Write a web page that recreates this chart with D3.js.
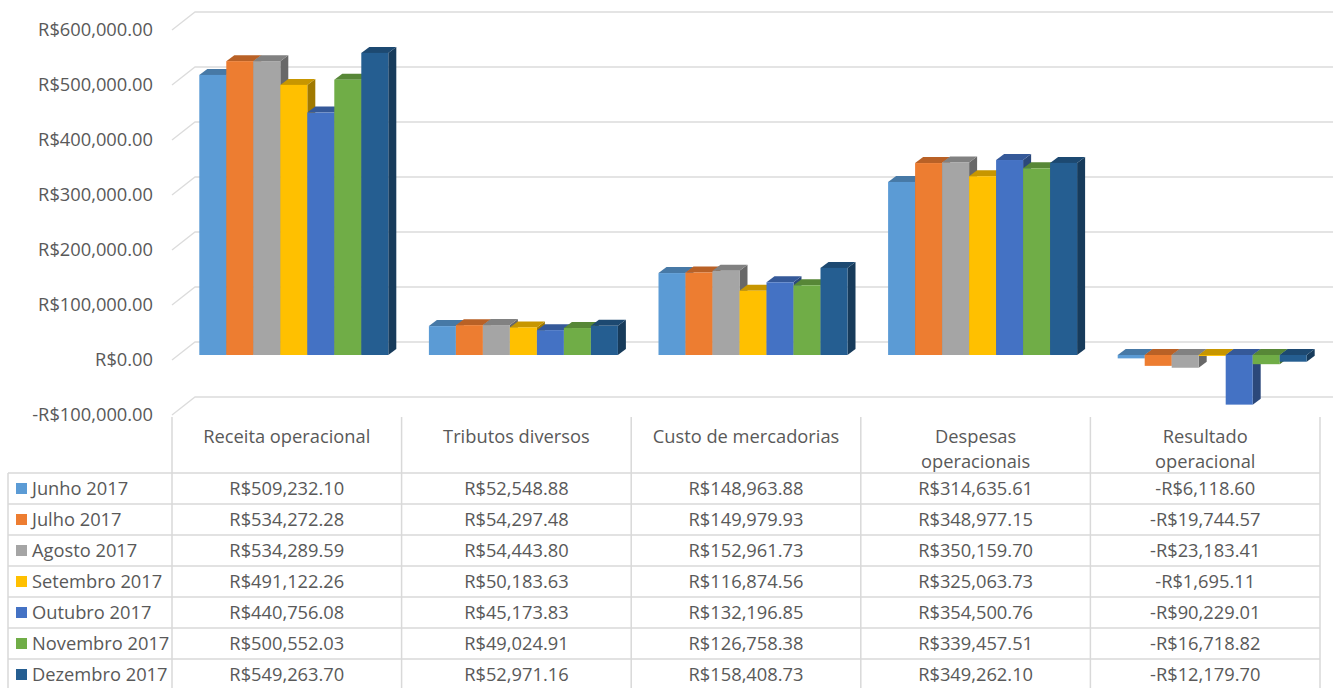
<!DOCTYPE html>
<html>
<head>
<meta charset="utf-8">
<script src="https://cdn.jsdelivr.net/npm/d3@7"></script>
<style>
  body { margin: 0; background: #fff; }
  text { font-family: "Open Sans", sans-serif; fill: #595959; }
</style>
</head>
<body>
<div id="container"></div>
<script>
var categories = ['Receita operacional', 'Tributos diversos', 'Custo de mercadorias', 'Despesas operacionais', 'Resultado operacional'];
var headerLines = [['Receita operacional'], ['Tributos diversos'], ['Custo de mercadorias'], ['Despesas', 'operacionais'], ['Resultado', 'operacional']];
var series = ['Junho 2017', 'Julho 2017', 'Agosto 2017', 'Setembro 2017', 'Outubro 2017', 'Novembro 2017', 'Dezembro 2017'];
var colors = ['#5B9BD5', '#ED7D31', '#A5A5A5', '#FFC000', '#4472C4', '#70AD47', '#255E91'];

var junho    = [509232.10, 52548.88, 148963.88, 314635.61, -6118.60];
var julho    = [534272.28, 54297.48, 149979.93, 348977.15, -19744.57];
var agosto   = [534289.59, 54443.80, 152961.73, 350159.70, -23183.41];
var setembro = [491122.26, 50183.63, 116874.56, 325063.73, -1695.11];
var outubro  = [440756.08, 45173.83, 132196.85, 354500.76, -90229.01];
var novembro = [500552.03, 49024.91, 126758.38, 339457.51, -16718.82];
var dezembro = [549263.70, 52971.16, 158408.73, 349262.10, -12179.70];
var allValues = [junho, julho, agosto, setembro, outubro, novembro, dezembro];

var yTicks = [-100000, 0, 100000, 200000, 300000, 400000, 500000, 600000];

var width = 1333, height = 688;
var plotLeft = 172, plotRight = 1320;
var wall = {dx: 23, dy: 18};      // depth of the back wall
var barShift = {dx: 7, dy: 5};    // bars sit a bit behind the front plane
var barDepth = {dx: 8, dy: 6};
var groupWidth = 189;
var headerTop = 417, headerBottom = 473, rowH = 31;
var fontSize = '18.3px';

var svg = d3.select('#container').append('svg')
	.attr('width', width)
	.attr('height', height);

var y = d3.scaleLinear().domain([-100000, 600000]).range([415, 30]);
var x0 = d3.scaleBand().domain(categories).range([plotLeft, plotRight]);
var x1 = d3.scaleBand().domain(series).range([0, groupWidth]);

var money = d3.format(',.2f');
function brl(v) { return (v < 0 ? '-R$' : 'R$') + money(Math.abs(v)); }

// gridlines: left side wall diagonal + back wall
var grid = svg.append('g').attr('stroke', '#dcdcdc').attr('stroke-width', 1.3).attr('fill', 'none');
grid.selectAll('path')
	.data(yTicks)
	.join('path')
	.attr('d', d => 'M' + plotLeft + ',' + y(d) + 'L' + (plotLeft + wall.dx) + ',' + (y(d) - wall.dy) + 'L' + width + ',' + (y(d) - wall.dy));

// value axis labels
var yAxis = d3.axisLeft(y).tickValues(yTicks).tickSize(0).tickPadding(0).tickFormat(brl);
var axisG = svg.append('g').attr('transform', 'translate(153,0)').call(yAxis);
axisG.select('.domain').remove();
axisG.selectAll('text').attr('font-size', fontSize).attr('font-family', '"Open Sans", sans-serif').attr('fill', '#595959');

// 3D bars
var y0 = y(0) - barShift.dy;
var bars = svg.append('g');
categories.forEach(function(cat, ci) {
	series.forEach(function(s, si) {
		var v = allValues[si][ci];
		var c = d3.rgb(colors[si]);
		var bx = x0(cat) + (x0.bandwidth() - groupWidth) / 2 + barShift.dx + x1(s);
		var w = x1.bandwidth();
		var yv = y(v) - barShift.dy;
		var top = Math.min(yv, y0), bot = Math.max(yv, y0);
		var g = bars.append('g');
		// side face
		g.append('path')
			.attr('d', 'M' + (bx + w) + ',' + top + 'L' + (bx + w + barDepth.dx) + ',' + (top - barDepth.dy) +
				'L' + (bx + w + barDepth.dx) + ',' + (bot - barDepth.dy) + 'L' + (bx + w) + ',' + bot + 'Z')
			.attr('fill', c.darker(1.3));
		// top face
		g.append('path')
			.attr('d', 'M' + bx + ',' + top + 'L' + (bx + barDepth.dx) + ',' + (top - barDepth.dy) +
				'L' + (bx + w + barDepth.dx) + ',' + (top - barDepth.dy) + 'L' + (bx + w) + ',' + top + 'Z')
			.attr('fill', c.darker(0.7));
		// front face
		g.append('rect')
			.attr('x', bx)
			.attr('y', top)
			.attr('width', w)
			.attr('height', bot - top)
			.attr('fill', c);
	});
});

// data table
var tbl = svg.append('g');
var lineColor = '#d9d9d9';
var rowsBottom = headerBottom + rowH * series.length;
var colEdges = [plotLeft].concat(categories.map(c => x0(c) + x0.bandwidth()));

tbl.selectAll('line.v')
	.data(colEdges)
	.join('line')
	.attr('class', 'v')
	.attr('x1', d => d).attr('x2', d => d)
	.attr('y1', headerTop).attr('y2', rowsBottom)
	.attr('stroke', lineColor).attr('stroke-width', 1.5);

tbl.append('line')
	.attr('x1', 8).attr('x2', 8)
	.attr('y1', headerBottom).attr('y2', rowsBottom)
	.attr('stroke', lineColor).attr('stroke-width', 1.5);

tbl.selectAll('line.h')
	.data(d3.range(series.length + 1))
	.join('line')
	.attr('class', 'h')
	.attr('x1', 8).attr('x2', plotRight)
	.attr('y1', d => headerBottom + d * rowH).attr('y2', d => headerBottom + d * rowH)
	.attr('stroke', lineColor).attr('stroke-width', 1.5);

// header
categories.forEach(function(cat, ci) {
	var t = tbl.append('text')
		.attr('x', x0(cat) + x0.bandwidth() / 2)
		.attr('y', 443)
		.attr('text-anchor', 'middle')
		.attr('font-size', fontSize);
	headerLines[ci].forEach(function(line, li) {
		t.append('tspan')
			.attr('x', x0(cat) + x0.bandwidth() / 2)
			.attr('dy', li === 0 ? 0 : 25)
			.text(line);
	});
});

// rows
series.forEach(function(s, si) {
	var cy = headerBottom + si * rowH + rowH / 2;
	tbl.append('rect')
		.attr('x', 16).attr('y', cy - 5.5)
		.attr('width', 11).attr('height', 11)
		.attr('fill', colors[si]);
	tbl.append('text')
		.attr('x', 32).attr('y', cy)
		.attr('dy', '0.35em')
		.attr('font-size', fontSize)
		.text(s);
	categories.forEach(function(cat, ci) {
		tbl.append('text')
			.attr('x', x0(cat) + x0.bandwidth() / 2)
			.attr('y', cy)
			.attr('dy', '0.35em')
			.attr('text-anchor', 'middle')
			.attr('font-size', fontSize)
			.text(brl(allValues[si][ci]));
	});
});
</script>
</body>
</html>
